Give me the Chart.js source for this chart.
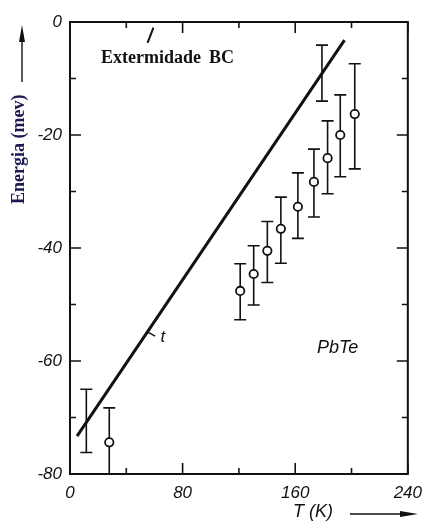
<!DOCTYPE html>
<html>
<head>
<meta charset="utf-8">
<script src="https://cdn.jsdelivr.net/npm/chart.js@4.4.1/dist/chart.umd.min.js"></script>
<style>
  html, body { margin: 0; padding: 0; background: #fff; }
  #wrap { width: 431px; height: 524px; position: relative; }
</style>
</head>
<body>
<div id="wrap"><canvas id="pbte"></canvas></div>
<script>
'use strict';

// dados (T em K, energia em meV)
const temps = [11.6, 27.9, 120.9, 130.5, 140.2, 149.8, 161.9, 173.3, 179, 183, 192, 202.3];
const energia = [-70.6, -74.4, -47.6, -44.6, -40.5, -36.6, -32.7, -28.3, -9.0, -24.1, -20.0, -16.3];
const erroTopo = [-65.0, -68.3, -42.8, -39.6, -35.3, -31.0, -26.7, -22.5, -4.1, -17.5, -12.9, -7.4];
const erroBase = [-76.2, -84.0, -52.7, -50.1, -46.1, -42.7, -38.3, -34.5, -14.0, -30.4, -27.4, -26.0];
// pontos escondidos pela reta (sem circulo visivel)
const escondido = [true, false, false, false, false, false, false, false, true, false, false, false];

// reta teorica "t"
const retaT = [5, 195];
const retaE = [-73.3, -3.2];

const xTicks = [0, 80, 160, 240];
const yTicks = [0, -20, -40, -60, -80];

const tickFont = { family: 'Liberation Sans', style: 'italic', size: 17 };

// barras de erro
const errorBars = {
    id: 'errorBars',
    beforeDatasetsDraw(chart) {
        const { ctx, chartArea, scales: { x, y } } = chart;
        ctx.save();
        ctx.beginPath();
        ctx.rect(chartArea.left, chartArea.top, chartArea.right - chartArea.left, chartArea.bottom - chartArea.top);
        ctx.clip();
        ctx.strokeStyle = '#111';
        ctx.lineWidth = 1.6;
        temps.forEach((t, i) => {
            const px = x.getPixelForValue(t);
            const y1 = y.getPixelForValue(erroTopo[i]);
            const y2 = y.getPixelForValue(erroBase[i]);
            ctx.beginPath();
            ctx.moveTo(px, y1); ctx.lineTo(px, y2);
            ctx.moveTo(px - 6, y1); ctx.lineTo(px + 6, y1);
            ctx.moveTo(px - 6, y2); ctx.lineTo(px + 6, y2);
            ctx.stroke();
        });
        ctx.restore();
    }
};

// moldura, tracos internos e textos
const frame = {
    id: 'frame',
    afterDraw(chart) {
        const { ctx, chartArea: a, scales: { x, y } } = chart;
        ctx.save();
        ctx.strokeStyle = '#111';
        ctx.lineWidth = 2;
        ctx.strokeRect(a.left, a.top, a.right - a.left, a.bottom - a.top);

        ctx.lineWidth = 1.6;
        ctx.beginPath();
        x.ticks.forEach(tk => {
            const px = x.getPixelForValue(tk.value);
            const len = tk.value % 80 === 0 ? 11 : 6;
            ctx.moveTo(px, a.bottom); ctx.lineTo(px, a.bottom - len);
            ctx.moveTo(px, a.top); ctx.lineTo(px, a.top + len);
        });
        y.ticks.forEach(tk => {
            const py = y.getPixelForValue(tk.value);
            const len = tk.value % 20 === 0 ? 11 : 6;
            ctx.moveTo(a.left, py); ctx.lineTo(a.left + len, py);
            ctx.moveTo(a.right, py); ctx.lineTo(a.right - len, py);
        });
        ctx.stroke();

        // marca "/" no topo
        ctx.lineWidth = 2;
        ctx.beginPath();
        ctx.moveTo(x.getPixelForValue(55.1), y.getPixelForValue(-3.7));
        ctx.lineTo(x.getPixelForValue(59.3), y.getPixelForValue(-1.0));
        ctx.stroke();

        // marca da reta "t"
        ctx.lineWidth = 1.4;
        ctx.beginPath();
        ctx.moveTo(x.getPixelForValue(54.6), y.getPixelForValue(-54.8));
        ctx.lineTo(x.getPixelForValue(60.5), y.getPixelForValue(-55.6));
        ctx.stroke();

        ctx.fillStyle = '#111';
        ctx.textBaseline = 'alphabetic';
        ctx.font = 'italic 17px "Liberation Sans"';
        ctx.fillText('t', x.getPixelForValue(64.3), y.getPixelForValue(-56.7));
        ctx.font = 'italic 18px "Liberation Sans"';
        ctx.fillText('PbTe', 317, 353);
        ctx.fillText('T (K)', 293, 517);

        ctx.font = 'bold 18px "Liberation Serif"';
        ctx.fillText('Extermidade', 101, 63);
        ctx.fillText('BC', 209, 63);

        // titulo do eixo y
        ctx.save();
        ctx.translate(24, 204);
        ctx.rotate(-Math.PI / 2);
        ctx.fillStyle = '#1b1b52';
        ctx.font = 'bold 18px "Liberation Serif"';
        ctx.fillText('Energia (mev)', 0, 0);
        ctx.restore();

        // setas
        ctx.lineWidth = 1.4;
        ctx.beginPath();
        ctx.moveTo(22, 82); ctx.lineTo(22, 40);
        ctx.moveTo(350, 514); ctx.lineTo(402, 514);
        ctx.stroke();
        ctx.beginPath();
        ctx.moveTo(22, 25); ctx.lineTo(19, 42); ctx.lineTo(25, 42); ctx.closePath();
        ctx.moveTo(418, 514); ctx.lineTo(400, 511); ctx.lineTo(400, 517); ctx.closePath();
        ctx.fill();
        ctx.restore();
    }
};

new Chart(document.getElementById('pbte'), {
    type: 'scatter',
    data: {
        datasets: [{
            type: 'line',
            data: retaT.map((t, i) => ({ x: t, y: retaE[i] })),
            borderColor: '#111',
            borderWidth: 3,
            pointRadius: 0,
            order: 0
        }, {
            data: temps.map((t, i) => ({ x: t, y: energia[i] })),
            pointRadius: escondido.map(h => h ? 0 : 4.2),
            pointBackgroundColor: '#fff',
            pointBorderColor: '#111',
            pointBorderWidth: 1.8,
            order: 1
        }]
    },
    options: {
        responsive: true,
        maintainAspectRatio: false,
        animation: false,
        events: [],
        layout: { padding: { top: 22, right: 17, left: 0, bottom: 0 } },
        plugins: { legend: { display: false }, tooltip: { enabled: false } },
        scales: {
            x: {
                min: 0,
                max: 240,
                grid: { display: false, drawTicks: false },
                border: { display: false },
                ticks: {
                    stepSize: 40,
                    padding: 9,
                    color: '#111',
                    font: tickFont,
                    maxRotation: 0,
                    callback: v => xTicks.includes(v) ? String(v) : ''
                },
                afterFit: s => { s.height = 50; }
            },
            y: {
                min: -80,
                max: 0,
                grid: { display: false, drawTicks: false },
                border: { display: false },
                ticks: {
                    stepSize: 10,
                    padding: 8,
                    color: '#111',
                    font: tickFont,
                    callback: v => yTicks.includes(v) ? String(v) : ''
                },
                afterFit: s => { s.width = 70; }
            }
        }
    },
    plugins: [errorBars, frame]
});
</script>
</body>
</html>
